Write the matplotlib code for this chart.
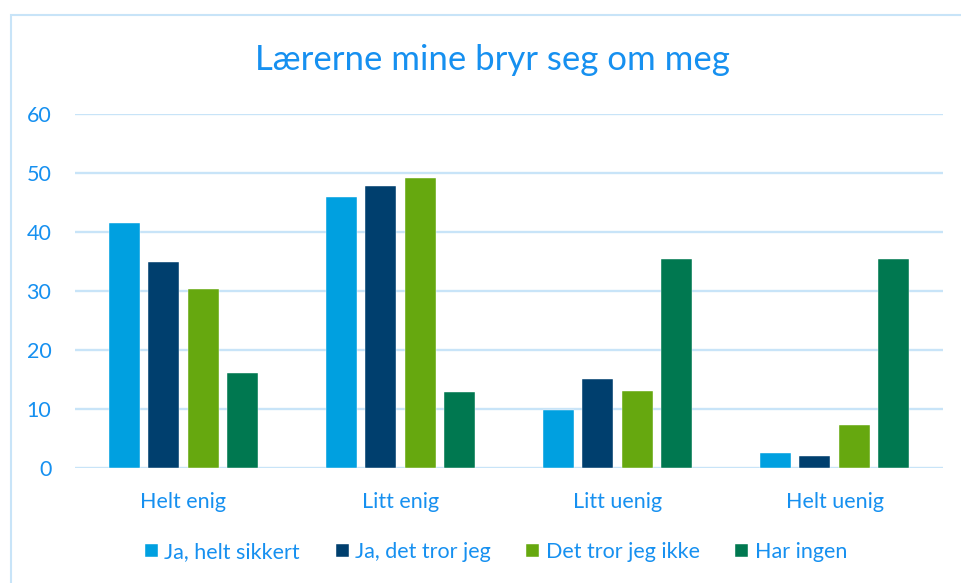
import numpy as np
import matplotlib.pyplot as plt
from matplotlib.patches import Rectangle

plt.rcParams['font.family'] = ['Lato', 'DejaVu Sans']

categories = ["Helt enig", "Litt enig", "Litt uenig", "Helt uenig"]
series_names = ["Ja, helt sikkert", "Ja, det tror jeg", "Det tror jeg ikke", "Har ingen"]
ja_helt_sikkert = [41.6, 45.9, 9.9, 2.5]
ja_det_tror_jeg = [34.9, 47.8, 15.1, 2.1]
det_tror_jeg_ikke = [30.4, 49.2, 13.1, 7.3]
har_ingen = [16.1, 12.9, 35.5, 35.5]

colors = ["#00A0E0", "#003F6E", "#66A80F", "#007850"]
text_color = "#1690F0"
grid_color = "#C8E4F8"


def main():
    fig = plt.figure(figsize=(9.61, 5.83), dpi=100)
    ax = fig.add_axes([75 / 961, 1 - 468 / 583, 868 / 961, 354 / 583])

    # light blue frame around the chart area (left and top visible)
    fig.patches.append(Rectangle((11 / 961, -0.1), 1.2, 1 - 15 / 583 + 0.1,
                                 transform=fig.transFigure, fill=False,
                                 edgecolor=grid_color, linewidth=1.5))

    x = np.arange(len(categories))
    width = 0.143
    step = 0.181
    all_series = [ja_helt_sikkert, ja_det_tror_jeg, det_tror_jeg_ikke, har_ingen]
    for i, (vals, name) in enumerate(zip(all_series, series_names)):
        ax.bar(x + (i - 1.5) * step, vals, width, color=colors[i], label=name,
               zorder=3, edgecolor="white", linewidth=0.3)

    ax.set_xlim(-0.5, len(categories) - 0.5)
    ax.set_ylim(0, 60)
    ax.set_yticks(range(0, 61, 10))
    ax.set_xticks(x)
    ax.set_xticklabels(categories)
    ax.grid(axis="y", color=grid_color, linewidth=1.7, zorder=0)
    for s in ax.spines.values():
        s.set_visible(False)
    ax.tick_params(axis="both", length=0, colors=text_color, labelsize=15.5)
    ax.tick_params(axis="x", pad=17)
    ax.tick_params(axis="y", pad=17)

    fig.text(492 / 961, 1 - 60 / 583, "Lærerne mine bryr seg om meg",
             ha="center", va="center", fontsize=25, color=text_color)

    leg = fig.legend(loc="center", bbox_to_anchor=(496 / 961, 1 - 552 / 583),
                     ncol=4, frameon=False, fontsize=15.5, handlelength=0.6,
                     handleheight=0.6, handletextpad=0.3, columnspacing=1.65)
    for t in leg.get_texts():
        t.set_color(text_color)

    fig.savefig("out.png", dpi=100)


if __name__ == "__main__":
    main()
